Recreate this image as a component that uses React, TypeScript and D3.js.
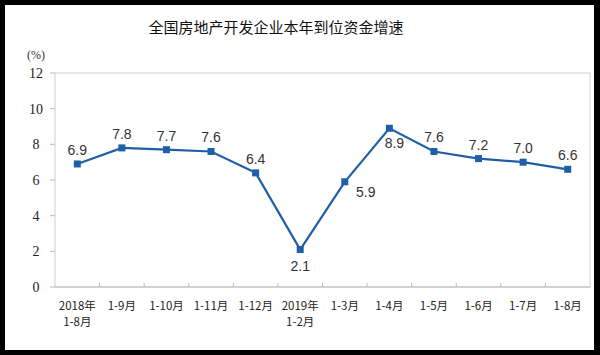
import React from "react";
import * as d3 from "d3";

const categories = ["2018年\n1-8月", "1-9月", "1-10月", "1-11月", "1-12月", "2019年\n1-2月", "1-3月", "1-4月", "1-5月", "1-6月", "1-7月", "1-8月"];
const values = [6.9, 7.8, 7.7, 7.6, 6.4, 2.1, 5.9, 8.9, 7.6, 7.2, 7.0, 6.6];
const yTicks = [0, 2, 4, 6, 8, 10, 12];
const labelPos = ["above", "above", "above", "above", "above", "below", "belowRight", "below", "above", "above", "above", "above"];

export default function App() {
  const W = 600, H = 355;
  const left = 55, right = 590, top = 73, bottom = 287;
  const x = d3.scaleBand<string>().domain(categories.map((c, i) => String(i))).range([left, right]);
  const y = d3.scaleLinear().domain([0, 12]).range([bottom, top]);
  const cx = (i: number) => (x(String(i)) as number) + x.bandwidth() / 2;
  const line = d3.line<number>().x((d, i) => cx(i)).y((d) => y(d));
  const cn = "'Noto Sans CJK SC', 'Noto Sans', sans-serif";
  return (
    <svg width={W} height={H} style={{ position: "absolute", left: 0, top: 0 }}>
      <rect x={0} y={0} width={W} height={H} fill="#000" />
      <rect x={5} y={5} width={589} height={345} fill="#fff" />
      <text x={276} y={33} textAnchor="middle" fontFamily={cn} fontSize={15} fill="#111">全国房地产开发企业本年到位资金增速</text>
      <text x={36} y={59} textAnchor="middle" fontFamily="'Liberation Serif', serif" fontSize={12} fill="#333">(%)</text>
      <rect x={left} y={top} width={right - left} height={bottom - top} fill="none" stroke="#d0d0d0" strokeWidth={1} />
      {yTicks.map((t) => (
        <g key={t}>
          <line x1={left - 5} x2={left} y1={y(t)} y2={y(t)} stroke="#bbb" />
          <text x={36} y={y(t)} dy="0.35em" textAnchor="middle" fontFamily="'Liberation Serif', serif" fontSize={14} fill="#222">{t}</text>
        </g>
      ))}
      <line x1={left} x2={right} y1={bottom} y2={bottom} stroke="#bbb" />
      {categories.map((c, i) => (
        i > 0 ? <line key={"t" + i} x1={x(String(i)) as number} x2={x(String(i)) as number} y1={bottom} y2={bottom - 4} stroke="#bbb" /> : null
      ))}
      {categories.map((c, i) => (
        <text key={"c" + i} x={cx(i)} y={310} textAnchor="middle" fontFamily={cn} fontSize={11.5} fill="#222">
          {c.split("\n").map((s, j) => (
            <tspan key={j} x={cx(i)} dy={j === 0 ? 0 : 16}>{s}</tspan>
          ))}
        </text>
      ))}
      <path d={line(values) as string} fill="none" stroke="#1f5fa8" strokeWidth={2.2} />
      {values.map((v, i) => (
        <rect key={"m" + i} x={cx(i) - 3.5} y={y(v) - 3.5} width={7} height={7} fill="#1f5fa8" />
      ))}
      {values.map((v, i) => {
        const p = labelPos[i];
        let lx = cx(i), ly = y(v) - 9;
        if (p === "below") { lx = cx(i) + (i === 7 ? 5 : 0); ly = y(v) + (i === 7 ? 20 : 21); }
        if (p === "belowRight") { lx = cx(i) + 21; ly = y(v) + 15; }
        return (
          <text key={"l" + i} x={lx} y={ly} textAnchor="middle" fontFamily="'Liberation Sans', Arial, sans-serif" fontSize={14} fill="#333">{v.toFixed(1)}</text>
        );
      })}
    </svg>
  );
}
